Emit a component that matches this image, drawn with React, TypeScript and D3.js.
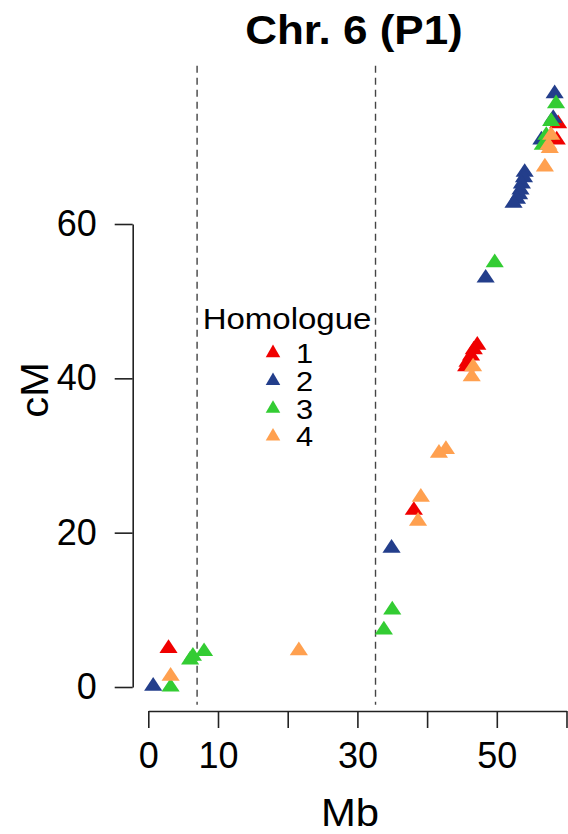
import React from 'react';
import * as d3 from 'd3';

// Homologue 1..4 : position (Mb) vs genetic map (cM)
const mb1 = [2.9, 38.1, 47.2, 46.7, 46.3, 45.8, 45.6, 58.8, 58.6];
const cm1 = [5.0, 22.9, 44.3, 43.7, 42.9, 42.1, 41.5, 73.0, 70.9];

const mb2 = [0.7, 34.9, 48.4, 54.0, 53.9, 53.6, 53.4, 53.2, 52.9, 52.4, 58.3, 58.1, 56.4];
const cm2 = [0.1, 18.0, 53.0, 66.7, 66.0, 65.2, 64.4, 63.8, 63.2, 62.7, 76.9, 73.7, 70.9];

const mb3 = [3.2, 6.0, 6.4, 8.0, 33.8, 35.0, 49.7, 58.5, 57.8, 57.1, 56.6];
const cm3 = [0.0, 3.5, 4.0, 4.6, 7.4, 10.0, 55.0, 75.6, 73.3, 71.5, 70.2];

const mb4 = [3.2, 21.6, 38.7, 39.1, 41.7, 42.7, 46.6, 46.4, 57.8, 57.4, 57.6, 56.9];
const cm4 = [1.4, 4.7, 21.5, 24.6, 30.3, 30.8, 41.5, 40.2, 71.5, 70.2, 69.8, 67.4];

const homologues = ['1', '2', '3', '4'];
const colors = ['#f00000', '#233e8b', '#33cc33', '#ffa04f'];
const seriesMb = [mb1, mb2, mb3, mb4];
const seriesCm = [cm1, cm2, cm3, cm4];

const xTicks = [0, 10, 20, 30, 40, 50, 60];
const xTickLabels = ['0', '10', '', '30', '', '50', ''];
const yTicks = [0, 20, 40, 60];
const boundaries = [7.0, 32.6]; // dashed lines, Mb
const plotYLimits = [-2.3, 80.5];

const font = 'Liberation Sans, Arial, Helvetica, sans-serif';

function Axis({ axis, transform }: { axis: any; transform: string }) {
  const ref = React.useRef<SVGGElement>(null);
  React.useEffect(() => {
    const g = d3.select(ref.current);
    g.call(axis);
    g.selectAll('path, line').attr('stroke', '#222').attr('stroke-width', 1.6);
    g.selectAll('text')
      .attr('fill', '#000')
      .style('font-family', font)
      .style('font-size', '36px');
  }, [axis]);
  return <g ref={ref} transform={transform} />;
}

export default function App() {
  const width = 568;
  const height = 834;

  const x = d3.scaleLinear().domain([0, 60]).range([148.3, 566.5]);
  const y = d3.scaleLinear().domain([0, 60]).range([687, 224]);

  const tri = d3.symbol().type(d3.symbolTriangle).size(108)()!;
  const legendTri = d3.symbol().type(d3.symbolTriangle).size(92)()!;

  const xAxis = d3
    .axisBottom(x)
    .tickValues(xTicks)
    .tickFormat((d, i) => xTickLabels[i])
    .tickSize(17)
    .tickSizeOuter(0)
    .tickPadding(14);

  const yAxis = d3
    .axisLeft(y)
    .tickValues(yTicks)
    .tickFormat(d3.format('d'))
    .tickSize(18)
    .tickSizeOuter(0)
    .tickPadding(18);

  return (
    <svg
      width={width}
      height={height}
      style={{ position: 'absolute', left: 0, top: 0, background: '#fff' }}
    >
      <text
        transform={`translate(354, 44) scale(1.1, 1)`}
        textAnchor="middle"
        fontFamily={font}
        fontWeight="bold"
        fontSize={40}
      >
        Chr. 6 (P1)
      </text>

      {boundaries.map((b) => (
        <line
          key={b}
          x1={x(b)}
          x2={x(b)}
          y1={y(plotYLimits[1])}
          y2={y(plotYLimits[0])}
          stroke="#444"
          strokeWidth={1.4}
          strokeDasharray="7,5"
        />
      ))}

      <Axis axis={xAxis} transform="translate(0, 711)" />
      <Axis axis={yAxis} transform="translate(132.7, 0)" />

      <text
        transform="translate(350, 826) scale(1.1, 1)"
        textAnchor="middle"
        fontFamily={font}
        fontSize={38}
      >
        Mb
      </text>
      <text
        transform="translate(48, 390) rotate(-90) scale(1.1, 1)"
        textAnchor="middle"
        fontFamily={font}
        fontSize={38}
      >
        cM
      </text>

      {seriesMb.map((mbs, s) =>
        mbs.map((mb, i) => (
          <path
            key={`${s}-${i}`}
            d={tri}
            transform={`translate(${x(mb)}, ${y(seriesCm[s][i])}) scale(1.15, 1)`}
            fill={colors[s]}
          />
        ))
      )}

      <g fontFamily={font}>
        <text transform="translate(287, 329) scale(1.1, 1)" textAnchor="middle" fontSize={30}>
          Homologue
        </text>
        {homologues.map((h, i) => (
          <g key={h} transform={`translate(0, ${353 + i * 27.8})`}>
            <path d={legendTri} transform="translate(273, 0)" fill={colors[i]} />
            <text transform="translate(296, 10) scale(1.1, 1)" fontSize={28}>
              {h}
            </text>
          </g>
        ))}
      </g>
    </svg>
  );
}
